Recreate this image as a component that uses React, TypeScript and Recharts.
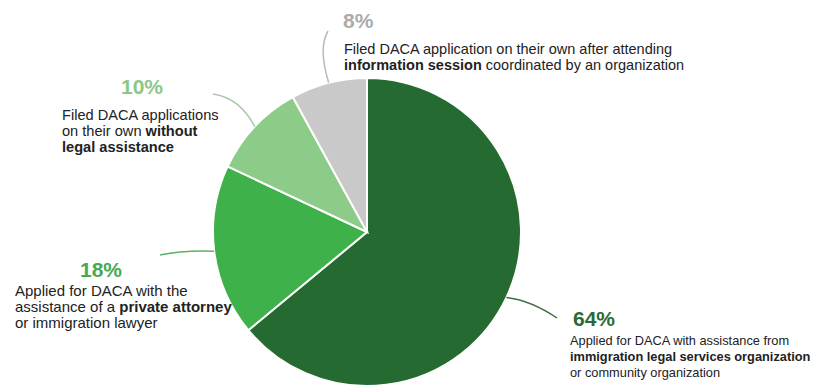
import { PieChart, Pie, Cell } from 'recharts';

// Share of DACA applicants by how they applied
const categories = ['Immigration legal services / community org', 'Private attorney', 'On their own, no legal help', 'On their own after info session'];
const shares = [64, 18, 10, 8];

const SLICE_COLORS = ['#256b31', '#3eb14a', '#8dcb88', '#c9c9c9'];
const PCT_COLORS = ['#2a6a35', '#46a94f', '#8bc787', '#ababab'];
const LINE_COLORS = ['#3c6e42', '#5bb163', '#a9c7a7', '#b8b8b8'];

// label text, split into lines of [text, bold] runs
const descriptions: [string, boolean][][][] = [
  [
    [['Applied for DACA with assistance from', false]],
    [['immigration legal services organization', true]],
    [['or community organization', false]],
  ],
  [
    [['Applied for DACA with the', false]],
    [['assistance of a ', false], ['private attorney', true]],
    [['or immigration lawyer', false]],
  ],
  [
    [['Filed DACA applications', false]],
    [['on their own ', false], ['without', true]],
    [['legal assistance', true]],
  ],
  [
    [['Filed DACA application on their own after attending', false]],
    [['information session', true], [' coordinated by an organization', false]],
  ],
];

// where each callout sits (pixels)
const layout = [
  { px: 573, py: 326, tx: 570, ty: 345, fs: 12.8, end: [557, 318], ctrl: [530, 300] },
  { px: 80, py: 277, tx: 15, ty: 296, fs: 15, end: [160, 255], ctrl: [185, 250] },
  { px: 121, py: 94, tx: 62, ty: 120, fs: 14.6, end: [213, 94], ctrl: [240, 98] },
  { px: 343, py: 28, tx: 344, ty: 54, fs: 14.5, end: [328, 31], ctrl: [318, 48] },
];

const data = categories.map((name, i) => ({ name, value: shares[i] }));
const FONT = '"Liberation Sans", Arial, sans-serif';
const RADIAN = Math.PI / 180;

const renderLabel = (props: any) => {
  const { cx, cy, midAngle, outerRadius, index, value } = props;
  const l = layout[index];
  const sx = cx + outerRadius * Math.cos(-midAngle * RADIAN);
  const sy = cy + outerRadius * Math.sin(-midAngle * RADIAN);
  return (
    <g key={`lbl-${index}`}>
      <path
        d={`M${sx},${sy} Q${l.ctrl[0]},${l.ctrl[1]} ${l.end[0]},${l.end[1]}`}
        stroke={LINE_COLORS[index]}
        strokeWidth={1.5}
        fill="none"
      />
      <text x={l.px} y={l.py} fill={PCT_COLORS[index]} fontSize={21} fontWeight="bold" fontFamily={FONT} textAnchor="start">
        {value}%
      </text>
      {descriptions[index].map((line, li) => (
        <text key={li} x={l.tx} y={l.ty + li * 16} fill="#222" fontSize={l.fs} fontFamily={FONT} textAnchor="start">
          {line.map(([t, b], si) => (
            <tspan key={si} fontWeight={b ? 'bold' : 'normal'}>{t}</tspan>
          ))}
        </text>
      ))}
    </g>
  );
};

export default function App() {
  return (
    <div style={{ position: 'absolute', left: 0, top: 0, width: 829, height: 386, background: '#fff' }}>
      <PieChart width={829} height={386} margin={{ top: 0, right: 0, bottom: 0, left: 0 }}>
        <Pie
          data={data}
          dataKey="value"
          nameKey="name"
          cx={367}
          cy={232}
          outerRadius={154}
          startAngle={90}
          endAngle={-270}
          stroke="#fff"
          strokeWidth={2}
          label={renderLabel}
          labelLine={false}
          isAnimationActive={false}
        >
          {data.map((d, i) => (
            <Cell key={d.name} fill={SLICE_COLORS[i]} />
          ))}
        </Pie>
      </PieChart>
    </div>
  );
}
